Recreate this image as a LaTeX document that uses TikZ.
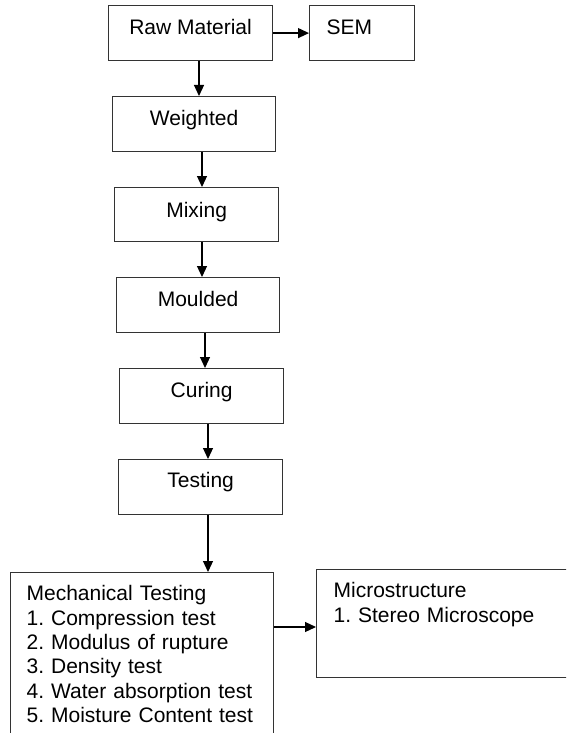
\documentclass[tikz,border=0pt]{standalone}
\usepackage{fontspec}
\setmainfont{Liberation Sans}
\usetikzlibrary{arrows.meta}
\frenchspacing
\begin{document}
\begin{tikzpicture}[x=1pt,y=-1pt,
  box/.style={draw=black!80, line width=1.2pt, inner sep=0pt, anchor=north west,
    font=\fontsize{21}{24.4}\selectfont, text height=29pt, text depth=26pt},
  listbox/.style={draw=black!80, line width=1.2pt, inner ysep=0pt, inner xsep=16pt,
    anchor=north west, align=left, font=\fontsize{21}{24.4}\selectfont\frenchspacing},
  arr/.style={draw=black, line width=1.2pt, -{Triangle[length=11pt,width=10pt]}}]
\useasboundingbox (0,0) rectangle (566,733);
\fill[white] (0,0) rectangle (566,733);
\clip (0,0) rectangle (566,733);

\node[box, minimum width=164pt] (raw) at (108,5) {Raw Material};
\node[box, minimum width=105pt, inner xsep=17pt, text width=71pt, align=left] (sem) at (309,5) {SEM};
\node[box, minimum width=163pt] (weighted) at (112,96) {Weighted};
\node[box, minimum width=164pt, text height=30pt, text depth=24pt] (mixing) at (114,187) {Mixing};
\node[box, minimum width=163pt] (moulded) at (116,277) {Moulded};
\node[box, minimum width=164pt] (curing) at (119,368) {Curing};
\node[box, minimum width=164pt, text height=28pt, text depth=27pt] (testing) at (118,459) {Testing};

\node[listbox, text width=231pt, text height=28pt, text depth=172pt] (mech) at (10,572)
  {Mechanical Testing\\1. Compression test\\2. Modulus of rupture\\3. Density test\\4. Water absorption test\\5. Moisture Content test};
\node[listbox, inner xsep=17pt, text width=266pt, text height=28pt, text depth=80pt,
  font=\fontsize{21}{25}\selectfont\frenchspacing] (micro) at (316,569)
  {Microstructure\\1. Stereo Microscope};

\draw[arr] (raw.east) -- (sem.west);
\draw[arr] (raw.south -| 199,0) -- (weighted.north -| 199,0);
\draw[arr] (weighted.south -| 202,0) -- (mixing.north -| 202,0);
\draw[arr] (mixing.south -| 202,0) -- (moulded.north -| 202,0);
\draw[arr] (moulded.south -| 205,0) -- (curing.north -| 205,0);
\draw[arr] (curing.south -| 208,0) -- (testing.north -| 208,0);
\draw[arr] (testing.south -| 208,0) -- (mech.north -| 208,0);
\draw[arr] (mech.east |- 0,627) -- (micro.west |- 0,627);
\end{tikzpicture}
\end{document}
